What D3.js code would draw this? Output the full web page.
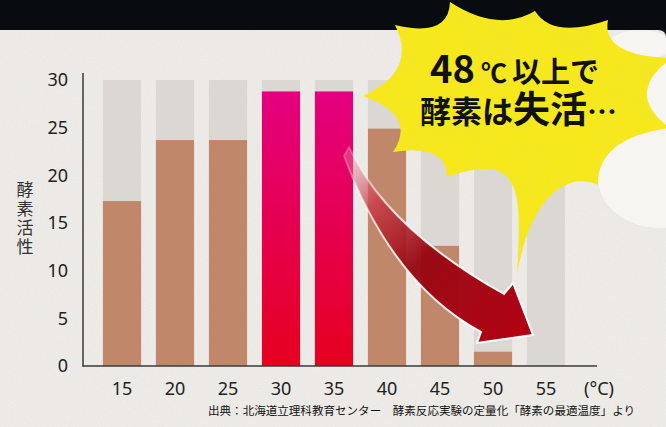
<!DOCTYPE html>
<html><head><meta charset="utf-8">
<script src="https://cdn.jsdelivr.net/npm/d3@7/dist/d3.min.js"></script>
<style>html,body{margin:0;padding:0;background:#080b10;}svg{display:block;}</style>
</head><body><svg id="chart" width="666" height="427"></svg>
<script>
// ---- data ----
const categories = ["15","20","25","30","35","40","45","50","55"];
const activity   = [17.3, 23.7, 23.7, 28.8, 28.8, 24.9, 12.6, 1.5, 0];
const fullScale  = 30;
const highlighted = ["30","35"];
const yTicks = [0,5,10,15,20,25,30];
const unitLabel = "(°C)";
const yTitle = "酵素活性";
const sourceText = "出典：北海道立理科教育センター　酵素反応実験の定量化「酵素の最適温度」より";
const calloutLine1 = [{t:"48", size:38}, {t:"℃", size:26}, {t:"以上で", size:29}];
const calloutLine2 = [{t:"酵素は", size:31}, {t:"失活", size:37}, {t:"…", size:30}];

const W = 666, H = 427;
const svg = d3.select("#chart");
const defs = svg.append("defs");

// paper noise
const nf = defs.append("filter").attr("id","noise").attr("x",0).attr("y",0).attr("width","100%").attr("height","100%");
nf.append("feTurbulence").attr("type","fractalNoise").attr("baseFrequency",0.85).attr("numOctaves",2).attr("seed",3);
nf.append("feColorMatrix").attr("type","matrix").attr("values","0 0 0 0 0.4  0 0 0 0 0.38  0 0 0 0 0.35  0 0 0 0.18 0");

// burst mottling
const bf = defs.append("filter").attr("id","mottle").attr("x",0).attr("y",0).attr("width","100%").attr("height","100%");
bf.append("feTurbulence").attr("type","fractalNoise").attr("baseFrequency",0.035).attr("numOctaves",3).attr("seed",7).attr("result","n");
bf.append("feColorMatrix").attr("in","n").attr("type","matrix").attr("values","0 0 0 0 0.85  0 0 0 0 0.79  0 0 0 0 0.05  0 0 0 1.1 -0.45").attr("result","c");
bf.append("feComposite").attr("in","c").attr("in2","SourceGraphic").attr("operator","in");

const pinkGrad = defs.append("linearGradient").attr("id","pink").attr("x1",0).attr("y1",0).attr("x2",0).attr("y2",1);
pinkGrad.append("stop").attr("offset","0%").attr("stop-color","#e4007f");
pinkGrad.append("stop").attr("offset","100%").attr("stop-color","#e6001e");

const arrowGrad = defs.append("linearGradient").attr("id","arrowG").attr("gradientUnits","userSpaceOnUse")
  .attr("x1",348).attr("y1",148).attr("x2",530).attr("y2",335);
[[0,"rgb(235,160,185)",0.3],[0.22,"rgb(200,60,70)",0.8],[0.5,"rgb(150,5,15)",0.95],[1,"rgb(178,0,18)",1]]
  .forEach(([o,c,a]) => arrowGrad.append("stop").attr("offset",o).attr("stop-color",c).attr("stop-opacity",a));
const arrowStroke = defs.append("linearGradient").attr("id","arrowS").attr("gradientUnits","userSpaceOnUse")
  .attr("x1",348).attr("y1",148).attr("x2",530).attr("y2",335);
arrowStroke.append("stop").attr("offset",0).attr("stop-color","#fff").attr("stop-opacity",0.2);
arrowStroke.append("stop").attr("offset",0.3).attr("stop-color","#fff").attr("stop-opacity",0.8);
arrowStroke.append("stop").attr("offset",1).attr("stop-color","#fff").attr("stop-opacity",1);

// background
svg.append("rect").attr("width",W).attr("height",H).attr("fill","#080b10");
svg.append("path").attr("d","M0,30 H658 Q666,30 666,38 V427 H0 Z").attr("fill","#f0eeea");
svg.append("path").attr("d","M0,30 H658 Q666,30 666,38 V427 H0 Z").attr("filter","url(#noise)").attr("opacity",0.6);

// faint light clouds at right
const clouds = svg.append("g").attr("fill","#f6f5f2");
clouds.append("ellipse").attr("cx",640).attr("cy",45).attr("rx",32).attr("ry",15);
clouds.append("circle").attr("cx",678).attr("cy",98).attr("r",36);
clouds.append("ellipse").attr("cx",660).attr("cy",178).attr("rx",62).attr("ry",50);

// ---- scales ----
const x = d3.scaleBand().domain([...categories, unitLabel]).range([95.5, 625.5]).paddingInner(0.28).paddingOuter(0.14);
const y = d3.scaleLinear().domain([0, fullScale]).range([366, 80]);

// bars
const bars = svg.append("g");
bars.selectAll("rect.bg").data(categories).join("rect").attr("class","bg")
  .attr("x", d => x(d)).attr("width", x.bandwidth())
  .attr("y", y(fullScale)).attr("height", y(0) - y(fullScale)).attr("fill","#dbd8d4");
bars.selectAll("rect.val").data(categories.map((c,i)=>({c, v:activity[i]})).filter(d=>d.v>0)).join("rect").attr("class","val")
  .attr("x", d => x(d.c)).attr("width", x.bandwidth())
  .attr("y", d => y(d.v)).attr("height", d => y(0) - y(d.v))
  .attr("fill", d => highlighted.includes(d.c) ? "url(#pink)" : "#c1876b");

// axes
const font = "'Noto Sans', 'DejaVu Sans', sans-serif";
const yAxis = svg.append("g").attr("transform","translate(83,0)")
  .call(d3.axisLeft(y).tickValues(yTicks).tickSize(0).tickPadding(15));
yAxis.select(".domain").remove();
yAxis.selectAll("text").attr("font-family",font).attr("font-size",18).attr("fill","#222");

const xAxis = svg.append("g").attr("transform","translate(0,366)")
  .call(d3.axisBottom(x).tickSize(0).tickPadding(16));
xAxis.select(".domain").remove();
xAxis.selectAll("text").attr("font-family",font).attr("font-size",18).attr("fill","#222");

svg.append("line").attr("x1",83).attr("x2",83).attr("y1",73).attr("y2",366.5).attr("stroke","#3a3a3a").attr("stroke-width",1.5);
svg.append("line").attr("x1",82.5).attr("x2",597).attr("y1",366).attr("y2",366).attr("stroke","#3a3a3a").attr("stroke-width",1.5);

// y title (vertical)
svg.append("text").attr("x",25).attr("y",181)
  .attr("font-family","'Noto Sans CJK JP', sans-serif").attr("font-size",17).attr("fill","#333")
  .style("writing-mode","vertical-rl").style("letter-spacing","2px")
  .text(yTitle);

// source
svg.append("text").attr("x",208).attr("y",415).attr("font-family","'Noto Sans CJK JP', sans-serif")
  .attr("font-size",11.2).attr("fill","#111").attr("textLength",427).attr("lengthAdjust","spacingAndGlyphs").text(sourceText);

// arrow
const arrowPath = "M349,147 Q386,228 504,294 L513,283 L533,335 L477,343 L481,332 Q392,284 344,156 Z";
svg.append("path").attr("d",arrowPath).attr("fill","url(#arrowG)").attr("stroke","url(#arrowS)").attr("stroke-width",2).attr("stroke-linejoin","miter");

// burst
const tips = [[450,2],[535,11],[608,20],[672,58],[670,128],[598,185],[517,274],[447,177],[393,152],[363,96],[395,25]];
const cx0 = 510, cy0 = 95;
let bd = `M${tips[0][0]},${tips[0][1]}`;
for (let i=0;i<tips.length;i++){
  const a = tips[i], b = tips[(i+1)%tips.length];
  if (a[0]===598 && b[0]===517) { bd += ` C565,170 530,200 ${b[0]},${b[1]}`; continue; }
  if (a[0]===517 && b[0]===447) { bd += ` C522,190 522,150 ${b[0]},${b[1]}`; continue; }
  const mx=(a[0]+b[0])/2, my=(a[1]+b[1])/2, k=0.3;
  bd += ` Q${mx+k*(cx0-mx)},${my+k*(cy0-my)} ${b[0]},${b[1]}`;
}
bd += " Z";
svg.append("path").attr("d",bd).attr("fill","#f6e81c");
svg.append("path").attr("d",bd).attr("fill","#fff").attr("filter","url(#mottle)").attr("opacity",0.55);

// callout text
const cf = "'Noto Sans CJK JP', sans-serif";
const l1x = [430, 481, 512];
const t1 = svg.append("text").attr("font-family",cf).attr("font-weight",700).attr("fill","#111").attr("y",83);
calloutLine1.forEach((s,i) => t1.append("tspan").attr("x",l1x[i]).attr("font-size",s.size).text(s.t));
const l2x = [420, 513, 587];
const t2 = svg.append("text").attr("font-family",cf).attr("font-weight",700).attr("fill","#111").attr("y",123);
calloutLine2.forEach((s,i) => t2.append("tspan").attr("x",l2x[i]).attr("font-size",s.size).text(s.t));
</script></body></html>
